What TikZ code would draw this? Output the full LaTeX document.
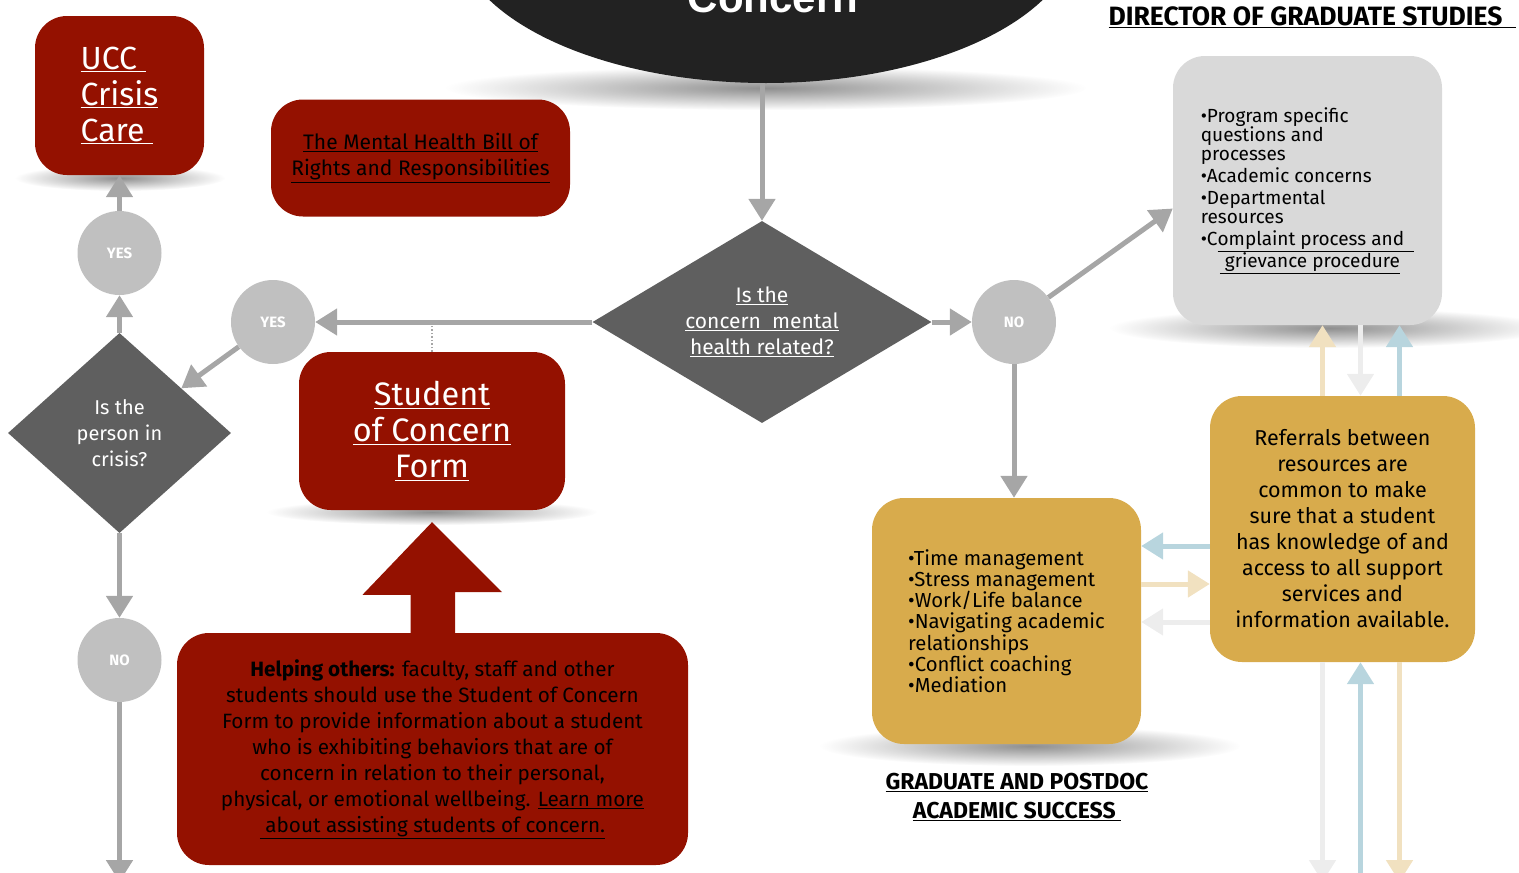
\documentclass[tikz,border=0pt]{standalone}
\usepackage{fontspec}
\setmainfont{Fira Sans}
\newfontfamily\titlefont{Liberation Sans}
\usetikzlibrary{shapes.geometric, arrows.meta, fadings}
\definecolor{crimson}{HTML}{941100}
\definecolor{titleblack}{HTML}{222222}
\definecolor{diagray}{HTML}{5F5F5F}
\definecolor{circgray}{HTML}{C0C0C0}
\definecolor{arrowgray}{HTML}{A6A6A6}
\definecolor{dgsgray}{HTML}{D9D9D9}
\definecolor{mustard}{HTML}{D8AB4C}
\definecolor{pale}{HTML}{F1E1C0}
\definecolor{skyline}{HTML}{B8D5DE}
\definecolor{mist}{HTML}{EDEDED}
\tikzfading[name=softshadow, inner color=transparent!20, outer color=transparent!100]
\tikzset{
    panel/.style={rounded corners=32pt, inner sep=0pt, align=center},
    redbox/.style={panel, fill=crimson},
    question/.style={diamond, fill=diagray, inner sep=0pt, text=white,
        align=center, font=\fontsize{21}{26}\selectfont},
    answer/.style={circle, fill=circgray, minimum size=84pt, inner sep=0pt,
        text=white, font=\bfseries\fontsize{15}{15}\selectfont},
    flow/.style={draw=arrowgray, line width=5pt,
        -{Triangle[width=26pt,length=22pt]}},
    link/.style={line width=5pt, -{Triangle[width=26pt,length=22pt]}},
    shadow/.style={fill=black!55, path fading=softshadow},
}

\begin{document}
\begin{tikzpicture}[x=1pt, y=-1pt]
    \useasboundingbox (0,0) rectangle (1519,873);
    \clip (0,0) rectangle (1519,873);
    \coordinate (bottom) at (0,882);

    % soft shadows under the boxes
    \fill[shadow] (766,88) ellipse (320pt and 22pt);
    \fill[shadow] (120,178) ellipse (105pt and 13pt);
    \fill[shadow] (432,512) ellipse (165pt and 13pt);
    \fill[shadow] (1330,328) ellipse (220pt and 20pt);
    \fill[shadow] (1030,746) ellipse (210pt and 20pt);

    \node[ellipse, fill=titleblack, minimum width=622pt, minimum height=306pt]
        (title) at (766,-70) {};
    \node[anchor=base, text=white, font=\titlefont\bfseries\fontsize{42}{42}\selectfont]
        (titletext) at (773,12) {Concern};

    \node[question, aspect=1.68, minimum width=339pt, minimum height=202pt]
        (mh) at (762,322) {\underline{Is the}\\\underline{concern\ \ mental}\\\underline{health related?}};
    \node[question, aspect=1.115, minimum width=223pt, minimum height=200pt,
        font=\fontsize{20}{26}\selectfont] (crisis) at (119.5,433) {Is the\\person in\\crisis?};

    \begin{scope}[every node/.style={answer}]
        \node (yes1) at (273,322) {YES};
        \node (yes2) at (119.5,253) {YES};
        \node (no1) at (119.5,660) {NO};
        \node (no2) at (1014,322) {NO};
    \end{scope}

    \node[redbox, minimum width=169pt, minimum height=159pt, text=white, align=left,
        font=\fontsize{32}{36}\selectfont] (ucc) at (119.5,95.5)
        {\underline{UCC\ }\\\underline{Crisis}\\\underline{Care\ }};
    \node[redbox, minimum width=299pt, minimum height=117pt,
        font=\fontsize{21}{26}\selectfont] (bill) at (420.5,158)
        {\underline{The Mental Health Bill of}\\\underline{Rights and Responsibilities}};
    \node[redbox, minimum width=266pt, minimum height=158pt, text=white,
        font=\fontsize{32.5}{36}\selectfont] (form) at (432,431)
        {\underline{Student}\\\underline{of Concern}\\\underline{Form}};
    \node[redbox, minimum width=511pt, minimum height=232pt,
        font=\fontsize{20.7}{26}\selectfont] (help) at (432.5,749)
        {\textbf{Helping others:} faculty, staff and other\\
        students should use the Student of Concern\\
        Form to provide information about a student\\
        who is exhibiting behaviors that are of\\
        concern in relation to their personal,\\
        physical, or emotional wellbeing. \underline{Learn more}\\
        \underline{\ about assisting students of concern.}};
    \fill[crimson] (form.south) ++(0,12) -- ++(70,70) -- ++(-47,0) |- (help.north)
        -| ++(-22,-38) -- ++(-48,0) -- cycle;

    \node[panel, fill=dgsgray, minimum width=269pt, minimum height=269pt, align=left,
        font=\fontsize{19}{19}\selectfont] (dgs) at (1307.5,190.5)
        {•Program specific\\questions and\\processes\\[3pt]•Academic concerns\\[3pt]%
        •Departmental\\resources\\[3pt]•C\underline{omplaint process and\ \ }\\
        \hspace*{1em}\underline{\ grievance procedure}};
    \node[panel, fill=mustard, minimum width=269pt, minimum height=246pt, align=left,
        font=\fontsize{20.3}{21.2}\selectfont] (gold) at (1006.5,621)
        {•Time management\\•Stress management\\•Work/Life balance\\
        •Navigating academic\\relationships\\•Conflict coaching\\•Mediation};
    \node[panel, fill=mustard, minimum width=265pt, minimum height=266pt,
        font=\fontsize{21.5}{26}\selectfont] (ref) at (1342.5,529)
        {Referrals between\\resources are\\common to make\\sure that a student\\
        has knowledge of and\\access to all support\\services and\\information available.};

    \node[anchor=base west, font=\bfseries\fontsize{26.5}{26.5}\selectfont]
        (dgshead) at (1105,25) {\underline{DIRECTOR OF GRADUATE STUDIES\hspace{14pt}}};
    \node[align=center, font=\bfseries\fontsize{23}{29}\selectfont]
        (gradhead) at (1017,797) {\underline{GRADUATE AND POSTDOC}\\\underline{ACADEMIC SUCCESS\ }};

    \draw[flow] (mh |- title.south) -- (mh);
    \draw[flow] (mh) -- (yes1);
    \draw[flow] (yes1) -- (crisis);
    \draw[flow] (crisis) -- (yes2);
    \draw[flow] (yes2) -- (ucc);
    \draw[flow] (crisis) -- (no1);
    \draw[flow] (no1) -- (no1 |- bottom);
    \draw[flow] (mh) -- (no2);
    \draw[flow] (no2) -- ([yshift=-18pt]dgs.west);
    \draw[flow] (no2) -- (no2 |- gold.north);
    \draw[draw=arrowgray, line width=1.5pt, dotted] (form.north) -- (form.north |- mh);

    \draw[link, draw=pale] ([xshift=-20pt]ref.north) -- ([xshift=-20pt]ref.north |- dgs.south);
    \draw[link, draw=mist] ([xshift=18pt]ref.north |- dgs.south) -- ([xshift=18pt]ref.north);
    \draw[link, draw=skyline] ([xshift=57pt]ref.north) -- ([xshift=57pt]ref.north |- dgs.south);
    \draw[link, draw=skyline] ([yshift=-17pt]ref.west) -- ([yshift=-17pt]ref.west -| gold.east);
    \draw[link, draw=pale] ([yshift=-55pt]ref.west -| gold.east) -- ([yshift=-55pt]ref.west);
    \draw[link, draw=mist] ([yshift=-93pt]ref.west) -- ([yshift=-93pt]ref.west -| gold.east);
    \draw[link, draw=mist] ([xshift=-20pt]ref.south) -- ([xshift=-20pt]ref.south |- bottom);
    \draw[link, draw=skyline] ([xshift=18pt]ref.south |- bottom) -- ([xshift=18pt]ref.south);
    \draw[link, draw=pale] ([xshift=57pt]ref.south) -- ([xshift=57pt]ref.south |- bottom);
\end{tikzpicture}
\end{document}
